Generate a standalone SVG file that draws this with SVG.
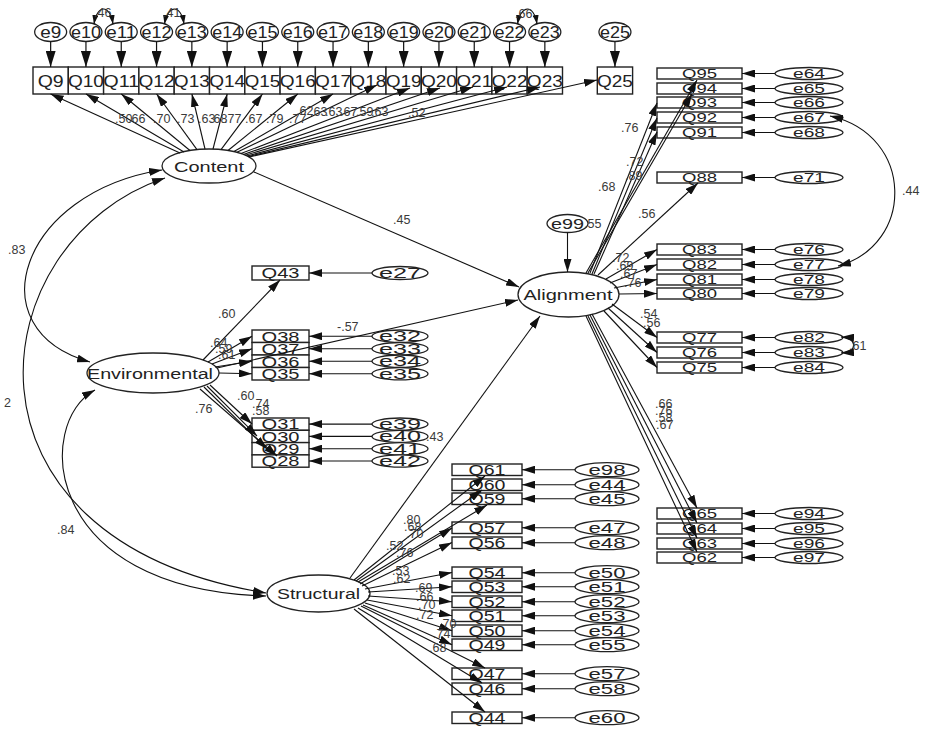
<svg xmlns="http://www.w3.org/2000/svg" width="925" height="730" viewBox="0 0 925 730">
<style>
.bx{fill:#fff;stroke:#222;stroke-width:1.4}
.el{fill:#fff;stroke:#222;stroke-width:1.3}
.ln{fill:none;stroke:#111;stroke-width:1.1;marker-end:url(#ah)}
.lb{fill:none;stroke:#111;stroke-width:1.2;marker-end:url(#ahb)}
.cv{fill:none;stroke:#111;stroke-width:1.1;marker-end:url(#ah);marker-start:url(#ah)}
.cs{fill:none;stroke:#111;stroke-width:1.1;marker-end:url(#sm);marker-start:url(#sm)}
text{font-family:"Liberation Sans",Arial,sans-serif;fill:#222}
.t{text-anchor:middle}
.tq{font-size:17px}
.tr{font-size:13px}
.te{font-size:14px}
.tl{font-size:15.5px}
.n{font-size:12.5px;fill:#3a3a3a}
</style>
<defs>
<marker id="ah" viewBox="0 0 13 8" refX="13" refY="4" markerWidth="13" markerHeight="8" markerUnits="userSpaceOnUse" orient="auto-start-reverse"><path d="M0,0 L13,4 L0,8 z" fill="#111"/></marker>
<marker id="ahb" viewBox="0 0 16 10" refX="16" refY="5" markerWidth="16" markerHeight="10" markerUnits="userSpaceOnUse" orient="auto"><path d="M0,0 L16,5 L0,10 z" fill="#111"/></marker>
<marker id="sm" viewBox="0 0 9 6" refX="9" refY="3" markerWidth="9" markerHeight="6" markerUnits="userSpaceOnUse" orient="auto-start-reverse"><path d="M0,0 L9,3 L0,6 z" fill="#111"/></marker>
</defs>
<rect width="925" height="730" fill="#fff"/>

<!-- latent nodes -->
<g id="Content"><ellipse class="el" cx="209" cy="166" rx="47" ry="17"/><text class="t tl" x="209" y="171.5" textLength="70" lengthAdjust="spacingAndGlyphs">Content</text></g>
<g id="Alignment"><ellipse class="el" cx="568.5" cy="294.5" rx="50.5" ry="22.5"/><text class="t tl" x="568" y="300" textLength="89" lengthAdjust="spacingAndGlyphs">Alignment</text></g>
<g id="Environmental"><ellipse class="el" cx="153" cy="373" rx="66" ry="20"/><text class="t tl" x="150" y="378.5" textLength="126" lengthAdjust="spacingAndGlyphs">Environmental</text></g>
<g id="Structural"><ellipse class="el" cx="318.5" cy="593.5" rx="51.5" ry="18.5"/><text class="t tl" x="318.5" y="599" textLength="83" lengthAdjust="spacingAndGlyphs">Structural</text></g>
<g id="e99"><ellipse class="el" cx="567.5" cy="223.5" rx="20.5" ry="9"/><text class="t te" x="567.5" y="228.5" textLength="33" lengthAdjust="spacingAndGlyphs">e99</text></g>

<!-- top row observed -->
<g id="Q9"><rect class="bx" x="33" y="67" width="35.3" height="27"/><text class="t tq" x="50.65" y="86.5" textLength="26" lengthAdjust="spacingAndGlyphs">Q9</text></g>
<g id="Q10"><rect class="bx" x="68.3" y="67" width="35.3" height="27"/><text class="t tq" x="85.95" y="86.5" textLength="36" lengthAdjust="spacingAndGlyphs">Q10</text></g>
<g id="Q11"><rect class="bx" x="103.6" y="67" width="35.3" height="27"/><text class="t tq" x="121.25" y="86.5" textLength="36" lengthAdjust="spacingAndGlyphs">Q11</text></g>
<g id="Q12"><rect class="bx" x="138.9" y="67" width="35.3" height="27"/><text class="t tq" x="156.55" y="86.5" textLength="36" lengthAdjust="spacingAndGlyphs">Q12</text></g>
<g id="Q13"><rect class="bx" x="174.2" y="67" width="35.3" height="27"/><text class="t tq" x="191.85" y="86.5" textLength="36" lengthAdjust="spacingAndGlyphs">Q13</text></g>
<g id="Q14"><rect class="bx" x="209.5" y="67" width="35.3" height="27"/><text class="t tq" x="227.15" y="86.5" textLength="36" lengthAdjust="spacingAndGlyphs">Q14</text></g>
<g id="Q15"><rect class="bx" x="244.8" y="67" width="35.3" height="27"/><text class="t tq" x="262.45" y="86.5" textLength="36" lengthAdjust="spacingAndGlyphs">Q15</text></g>
<g id="Q16"><rect class="bx" x="280.1" y="67" width="35.3" height="27"/><text class="t tq" x="297.75" y="86.5" textLength="36" lengthAdjust="spacingAndGlyphs">Q16</text></g>
<g id="Q17"><rect class="bx" x="315.4" y="67" width="35.3" height="27"/><text class="t tq" x="333.05" y="86.5" textLength="36" lengthAdjust="spacingAndGlyphs">Q17</text></g>
<g id="Q18"><rect class="bx" x="350.7" y="67" width="35.3" height="27"/><text class="t tq" x="368.35" y="86.5" textLength="36" lengthAdjust="spacingAndGlyphs">Q18</text></g>
<g id="Q19"><rect class="bx" x="386" y="67" width="35.3" height="27"/><text class="t tq" x="403.65" y="86.5" textLength="36" lengthAdjust="spacingAndGlyphs">Q19</text></g>
<g id="Q20"><rect class="bx" x="421.3" y="67" width="35.3" height="27"/><text class="t tq" x="438.95" y="86.5" textLength="36" lengthAdjust="spacingAndGlyphs">Q20</text></g>
<g id="Q21"><rect class="bx" x="456.6" y="67" width="35.3" height="27"/><text class="t tq" x="474.25" y="86.5" textLength="36" lengthAdjust="spacingAndGlyphs">Q21</text></g>
<g id="Q22"><rect class="bx" x="491.9" y="67" width="35.3" height="27"/><text class="t tq" x="509.55" y="86.5" textLength="36" lengthAdjust="spacingAndGlyphs">Q22</text></g>
<g id="Q23"><rect class="bx" x="527.2" y="67" width="35.3" height="27"/><text class="t tq" x="544.85" y="86.5" textLength="36" lengthAdjust="spacingAndGlyphs">Q23</text></g>
<g id="Q25"><rect class="bx" x="597.3" y="67" width="35.3" height="27"/><text class="t tq" x="614.95" y="86.5" textLength="36" lengthAdjust="spacingAndGlyphs">Q25</text></g>

<g id="e9"><ellipse class="el" cx="50.65" cy="32" rx="16" ry="9.5"/><text class="t" font-size="16" x="50.65" y="37.5" textLength="21" lengthAdjust="spacingAndGlyphs">e9</text></g>
<g id="e10"><ellipse class="el" cx="85.95" cy="32" rx="16" ry="9.5"/><text class="t" font-size="16" x="85.95" y="37.5" textLength="30" lengthAdjust="spacingAndGlyphs">e10</text></g>
<g id="e11"><ellipse class="el" cx="121.25" cy="32" rx="16" ry="9.5"/><text class="t" font-size="16" x="121.25" y="37.5" textLength="30" lengthAdjust="spacingAndGlyphs">e11</text></g>
<g id="e12"><ellipse class="el" cx="156.55" cy="32" rx="16" ry="9.5"/><text class="t" font-size="16" x="156.55" y="37.5" textLength="30" lengthAdjust="spacingAndGlyphs">e12</text></g>
<g id="e13"><ellipse class="el" cx="191.85" cy="32" rx="16" ry="9.5"/><text class="t" font-size="16" x="191.85" y="37.5" textLength="30" lengthAdjust="spacingAndGlyphs">e13</text></g>
<g id="e14"><ellipse class="el" cx="227.15" cy="32" rx="16" ry="9.5"/><text class="t" font-size="16" x="227.15" y="37.5" textLength="30" lengthAdjust="spacingAndGlyphs">e14</text></g>
<g id="e15"><ellipse class="el" cx="262.45" cy="32" rx="16" ry="9.5"/><text class="t" font-size="16" x="262.45" y="37.5" textLength="30" lengthAdjust="spacingAndGlyphs">e15</text></g>
<g id="e16"><ellipse class="el" cx="297.75" cy="32" rx="16" ry="9.5"/><text class="t" font-size="16" x="297.75" y="37.5" textLength="30" lengthAdjust="spacingAndGlyphs">e16</text></g>
<g id="e17"><ellipse class="el" cx="333.05" cy="32" rx="16" ry="9.5"/><text class="t" font-size="16" x="333.05" y="37.5" textLength="30" lengthAdjust="spacingAndGlyphs">e17</text></g>
<g id="e18"><ellipse class="el" cx="368.35" cy="32" rx="16" ry="9.5"/><text class="t" font-size="16" x="368.35" y="37.5" textLength="30" lengthAdjust="spacingAndGlyphs">e18</text></g>
<g id="e19"><ellipse class="el" cx="403.65" cy="32" rx="16" ry="9.5"/><text class="t" font-size="16" x="403.65" y="37.5" textLength="30" lengthAdjust="spacingAndGlyphs">e19</text></g>
<g id="e20"><ellipse class="el" cx="438.95" cy="32" rx="16" ry="9.5"/><text class="t" font-size="16" x="438.95" y="37.5" textLength="30" lengthAdjust="spacingAndGlyphs">e20</text></g>
<g id="e21"><ellipse class="el" cx="474.25" cy="32" rx="16" ry="9.5"/><text class="t" font-size="16" x="474.25" y="37.5" textLength="30" lengthAdjust="spacingAndGlyphs">e21</text></g>
<g id="e22"><ellipse class="el" cx="509.55" cy="32" rx="16" ry="9.5"/><text class="t" font-size="16" x="509.55" y="37.5" textLength="30" lengthAdjust="spacingAndGlyphs">e22</text></g>
<g id="e23"><ellipse class="el" cx="544.85" cy="32" rx="16" ry="9.5"/><text class="t" font-size="16" x="544.85" y="37.5" textLength="30" lengthAdjust="spacingAndGlyphs">e23</text></g>
<g id="e25"><ellipse class="el" cx="614.95" cy="32" rx="16" ry="9.5"/><text class="t" font-size="16" x="614.95" y="37.5" textLength="30" lengthAdjust="spacingAndGlyphs">e25</text></g>

<!-- right observed (Alignment) -->
<g id="Q95"><rect class="bx" x="657" y="68" width="85" height="11"/><text class="t tr" x="699.5" y="78" textLength="35" lengthAdjust="spacingAndGlyphs">Q95</text></g>
<g id="Q94"><rect class="bx" x="657" y="83" width="85" height="11"/><text class="t tr" x="699.5" y="93" textLength="35" lengthAdjust="spacingAndGlyphs">Q94</text></g>
<g id="Q93"><rect class="bx" x="657" y="97" width="85" height="11"/><text class="t tr" x="699.5" y="107" textLength="35" lengthAdjust="spacingAndGlyphs">Q93</text></g>
<g id="Q92"><rect class="bx" x="657" y="112" width="85" height="11"/><text class="t tr" x="699.5" y="122" textLength="35" lengthAdjust="spacingAndGlyphs">Q92</text></g>
<g id="Q91"><rect class="bx" x="657" y="127" width="85" height="11"/><text class="t tr" x="699.5" y="137" textLength="35" lengthAdjust="spacingAndGlyphs">Q91</text></g>
<g id="Q88"><rect class="bx" x="657" y="172" width="85" height="11"/><text class="t tr" x="699.5" y="182" textLength="35" lengthAdjust="spacingAndGlyphs">Q88</text></g>
<g id="Q83"><rect class="bx" x="657" y="244" width="85" height="11"/><text class="t tr" x="699.5" y="254" textLength="35" lengthAdjust="spacingAndGlyphs">Q83</text></g>
<g id="Q82"><rect class="bx" x="657" y="259" width="85" height="11"/><text class="t tr" x="699.5" y="269" textLength="35" lengthAdjust="spacingAndGlyphs">Q82</text></g>
<g id="Q81"><rect class="bx" x="657" y="274" width="85" height="11"/><text class="t tr" x="699.5" y="284" textLength="35" lengthAdjust="spacingAndGlyphs">Q81</text></g>
<g id="Q80"><rect class="bx" x="657" y="288" width="85" height="11"/><text class="t tr" x="699.5" y="298" textLength="35" lengthAdjust="spacingAndGlyphs">Q80</text></g>
<g id="Q77"><rect class="bx" x="657" y="332" width="85" height="11"/><text class="t tr" x="699.5" y="342" textLength="35" lengthAdjust="spacingAndGlyphs">Q77</text></g>
<g id="Q76"><rect class="bx" x="657" y="347" width="85" height="11"/><text class="t tr" x="699.5" y="357" textLength="35" lengthAdjust="spacingAndGlyphs">Q76</text></g>
<g id="Q75"><rect class="bx" x="657" y="362" width="85" height="11"/><text class="t tr" x="699.5" y="372" textLength="35" lengthAdjust="spacingAndGlyphs">Q75</text></g>
<g id="Q65"><rect class="bx" x="657" y="508" width="85" height="11"/><text class="t tr" x="699.5" y="518" textLength="35" lengthAdjust="spacingAndGlyphs">Q65</text></g>
<g id="Q64"><rect class="bx" x="657" y="523" width="85" height="11"/><text class="t tr" x="699.5" y="533" textLength="35" lengthAdjust="spacingAndGlyphs">Q64</text></g>
<g id="Q63"><rect class="bx" x="657" y="538" width="85" height="11"/><text class="t tr" x="699.5" y="548" textLength="35" lengthAdjust="spacingAndGlyphs">Q63</text></g>
<g id="Q62"><rect class="bx" x="657" y="552" width="85" height="11"/><text class="t tr" x="699.5" y="562" textLength="35" lengthAdjust="spacingAndGlyphs">Q62</text></g>

<g id="e64"><ellipse class="el" cx="809" cy="73.5" rx="34" ry="6"/><text class="t tr" x="809" y="78" textLength="32" lengthAdjust="spacingAndGlyphs">e64</text></g>
<g id="e65"><ellipse class="el" cx="809" cy="88.5" rx="34" ry="6"/><text class="t tr" x="809" y="93" textLength="32" lengthAdjust="spacingAndGlyphs">e65</text></g>
<g id="e66"><ellipse class="el" cx="809" cy="102.5" rx="34" ry="6"/><text class="t tr" x="809" y="107" textLength="32" lengthAdjust="spacingAndGlyphs">e66</text></g>
<g id="e67"><ellipse class="el" cx="809" cy="117.5" rx="34" ry="6"/><text class="t tr" x="809" y="122" textLength="32" lengthAdjust="spacingAndGlyphs">e67</text></g>
<g id="e68"><ellipse class="el" cx="809" cy="132.5" rx="34" ry="6"/><text class="t tr" x="809" y="137" textLength="32" lengthAdjust="spacingAndGlyphs">e68</text></g>
<g id="e71"><ellipse class="el" cx="809" cy="177.5" rx="34" ry="6"/><text class="t tr" x="809" y="182" textLength="32" lengthAdjust="spacingAndGlyphs">e71</text></g>
<g id="e76"><ellipse class="el" cx="809" cy="249.5" rx="34" ry="6"/><text class="t tr" x="809" y="254" textLength="32" lengthAdjust="spacingAndGlyphs">e76</text></g>
<g id="e77"><ellipse class="el" cx="809" cy="264.5" rx="34" ry="6"/><text class="t tr" x="809" y="269" textLength="32" lengthAdjust="spacingAndGlyphs">e77</text></g>
<g id="e78"><ellipse class="el" cx="809" cy="279.5" rx="34" ry="6"/><text class="t tr" x="809" y="284" textLength="32" lengthAdjust="spacingAndGlyphs">e78</text></g>
<g id="e79"><ellipse class="el" cx="809" cy="293.5" rx="34" ry="6"/><text class="t tr" x="809" y="298" textLength="32" lengthAdjust="spacingAndGlyphs">e79</text></g>
<g id="e82"><ellipse class="el" cx="809" cy="337.5" rx="34" ry="6"/><text class="t tr" x="809" y="342" textLength="32" lengthAdjust="spacingAndGlyphs">e82</text></g>
<g id="e83"><ellipse class="el" cx="809" cy="352.5" rx="34" ry="6"/><text class="t tr" x="809" y="357" textLength="32" lengthAdjust="spacingAndGlyphs">e83</text></g>
<g id="e84"><ellipse class="el" cx="809" cy="367.5" rx="34" ry="6"/><text class="t tr" x="809" y="372" textLength="32" lengthAdjust="spacingAndGlyphs">e84</text></g>
<g id="e94"><ellipse class="el" cx="809" cy="513.5" rx="34" ry="6"/><text class="t tr" x="809" y="518" textLength="32" lengthAdjust="spacingAndGlyphs">e94</text></g>
<g id="e95"><ellipse class="el" cx="809" cy="528.5" rx="34" ry="6"/><text class="t tr" x="809" y="533" textLength="32" lengthAdjust="spacingAndGlyphs">e95</text></g>
<g id="e96"><ellipse class="el" cx="809" cy="543.5" rx="34" ry="6"/><text class="t tr" x="809" y="548" textLength="32" lengthAdjust="spacingAndGlyphs">e96</text></g>
<g id="e97"><ellipse class="el" cx="809" cy="557.5" rx="34" ry="6"/><text class="t tr" x="809" y="562" textLength="32" lengthAdjust="spacingAndGlyphs">e97</text></g>

<!-- Environmental observed -->
<g id="Q43"><rect class="bx" x="252" y="266" width="57" height="14"/><text class="t te" x="280.5" y="278" textLength="38" lengthAdjust="spacingAndGlyphs">Q43</text></g>
<g id="Q38"><rect class="bx" x="252" y="330" width="57" height="12.5"/><text class="t te" x="280.5" y="341.5" textLength="38" lengthAdjust="spacingAndGlyphs">Q38</text></g>
<g id="Q37"><rect class="bx" x="252" y="342.5" width="57" height="12.5"/><text class="t te" x="280.5" y="354" textLength="38" lengthAdjust="spacingAndGlyphs">Q37</text></g>
<g id="Q36"><rect class="bx" x="252" y="355" width="57" height="12.5"/><text class="t te" x="280.5" y="366.5" textLength="38" lengthAdjust="spacingAndGlyphs">Q36</text></g>
<g id="Q35"><rect class="bx" x="252" y="367.5" width="57" height="12.5"/><text class="t te" x="280.5" y="379" textLength="38" lengthAdjust="spacingAndGlyphs">Q35</text></g>
<g id="Q31"><rect class="bx" x="252" y="418" width="57" height="12.3"/><text class="t te" x="280.5" y="429.3" textLength="38" lengthAdjust="spacingAndGlyphs">Q31</text></g>
<g id="Q30"><rect class="bx" x="252" y="430.3" width="57" height="12.3"/><text class="t te" x="280.5" y="441.6" textLength="38" lengthAdjust="spacingAndGlyphs">Q30</text></g>
<g id="Q29"><rect class="bx" x="252" y="442.6" width="57" height="12.3"/><text class="t te" x="280.5" y="453.9" textLength="38" lengthAdjust="spacingAndGlyphs">Q29</text></g>
<g id="Q28"><rect class="bx" x="252" y="454.9" width="57" height="12.3"/><text class="t te" x="280.5" y="466.2" textLength="38" lengthAdjust="spacingAndGlyphs">Q28</text></g>

<g id="e27"><ellipse class="el" cx="400" cy="273" rx="28" ry="6.5"/><text class="t te" x="400" y="278" textLength="42" lengthAdjust="spacingAndGlyphs">e27</text></g>
<g id="e32"><ellipse class="el" cx="400" cy="336.2" rx="28" ry="6.2"/><text class="t te" x="400" y="341.2" textLength="42" lengthAdjust="spacingAndGlyphs">e32</text></g>
<g id="e33"><ellipse class="el" cx="400" cy="348.7" rx="28" ry="6.2"/><text class="t te" x="400" y="353.7" textLength="42" lengthAdjust="spacingAndGlyphs">e33</text></g>
<g id="e34"><ellipse class="el" cx="400" cy="361.2" rx="28" ry="6.2"/><text class="t te" x="400" y="366.2" textLength="42" lengthAdjust="spacingAndGlyphs">e34</text></g>
<g id="e35"><ellipse class="el" cx="400" cy="373.7" rx="28" ry="6.2"/><text class="t te" x="400" y="378.7" textLength="42" lengthAdjust="spacingAndGlyphs">e35</text></g>
<g id="e39"><ellipse class="el" cx="400" cy="424.1" rx="28" ry="6.1"/><text class="t te" x="400" y="429.1" textLength="42" lengthAdjust="spacingAndGlyphs">e39</text></g>
<g id="e40"><ellipse class="el" cx="400" cy="436.4" rx="28" ry="6.1"/><text class="t te" x="400" y="441.4" textLength="42" lengthAdjust="spacingAndGlyphs">e40</text></g>
<g id="e41"><ellipse class="el" cx="400" cy="448.7" rx="28" ry="6.1"/><text class="t te" x="400" y="453.7" textLength="42" lengthAdjust="spacingAndGlyphs">e41</text></g>
<g id="e42"><ellipse class="el" cx="400" cy="461" rx="28" ry="6.1"/><text class="t te" x="400" y="466" textLength="42" lengthAdjust="spacingAndGlyphs">e42</text></g>

<!-- Structural observed -->
<g id="Q61"><rect class="bx" x="452" y="464" width="70" height="11.5"/><text class="t te" x="487" y="474.5" textLength="37" lengthAdjust="spacingAndGlyphs">Q61</text></g>
<g id="Q60"><rect class="bx" x="452" y="479" width="70" height="11.5"/><text class="t te" x="487" y="489.5" textLength="37" lengthAdjust="spacingAndGlyphs">Q60</text></g>
<g id="Q59"><rect class="bx" x="452" y="493" width="70" height="11.5"/><text class="t te" x="487" y="503.5" textLength="37" lengthAdjust="spacingAndGlyphs">Q59</text></g>
<g id="Q57"><rect class="bx" x="452" y="522" width="70" height="11.5"/><text class="t te" x="487" y="532.5" textLength="37" lengthAdjust="spacingAndGlyphs">Q57</text></g>
<g id="Q56"><rect class="bx" x="452" y="537" width="70" height="11.5"/><text class="t te" x="487" y="547.5" textLength="37" lengthAdjust="spacingAndGlyphs">Q56</text></g>
<g id="Q54"><rect class="bx" x="452" y="567" width="70" height="11.5"/><text class="t te" x="487" y="577.5" textLength="37" lengthAdjust="spacingAndGlyphs">Q54</text></g>
<g id="Q53"><rect class="bx" x="452" y="581" width="70" height="11.5"/><text class="t te" x="487" y="591.5" textLength="37" lengthAdjust="spacingAndGlyphs">Q53</text></g>
<g id="Q52"><rect class="bx" x="452" y="596" width="70" height="11.5"/><text class="t te" x="487" y="606.5" textLength="37" lengthAdjust="spacingAndGlyphs">Q52</text></g>
<g id="Q51"><rect class="bx" x="452" y="610" width="70" height="11.5"/><text class="t te" x="487" y="620.5" textLength="37" lengthAdjust="spacingAndGlyphs">Q51</text></g>
<g id="Q50"><rect class="bx" x="452" y="625" width="70" height="11.5"/><text class="t te" x="487" y="635.5" textLength="37" lengthAdjust="spacingAndGlyphs">Q50</text></g>
<g id="Q49"><rect class="bx" x="452" y="639" width="70" height="11.5"/><text class="t te" x="487" y="649.5" textLength="37" lengthAdjust="spacingAndGlyphs">Q49</text></g>
<g id="Q47"><rect class="bx" x="452" y="668" width="70" height="11.5"/><text class="t te" x="487" y="678.5" textLength="37" lengthAdjust="spacingAndGlyphs">Q47</text></g>
<g id="Q46"><rect class="bx" x="452" y="683" width="70" height="11.5"/><text class="t te" x="487" y="693.5" textLength="37" lengthAdjust="spacingAndGlyphs">Q46</text></g>
<g id="Q44"><rect class="bx" x="452" y="712" width="70" height="11.5"/><text class="t te" x="487" y="722.5" textLength="37" lengthAdjust="spacingAndGlyphs">Q44</text></g>

<g id="e98"><ellipse class="el" cx="607" cy="469.7" rx="32" ry="7"/><text class="t te" x="607" y="474.7" textLength="37" lengthAdjust="spacingAndGlyphs">e98</text></g>
<g id="e44"><ellipse class="el" cx="607" cy="484.7" rx="32" ry="7"/><text class="t te" x="607" y="489.7" textLength="37" lengthAdjust="spacingAndGlyphs">e44</text></g>
<g id="e45"><ellipse class="el" cx="607" cy="498.7" rx="32" ry="7"/><text class="t te" x="607" y="503.7" textLength="37" lengthAdjust="spacingAndGlyphs">e45</text></g>
<g id="e47"><ellipse class="el" cx="607" cy="527.7" rx="32" ry="7"/><text class="t te" x="607" y="532.7" textLength="37" lengthAdjust="spacingAndGlyphs">e47</text></g>
<g id="e48"><ellipse class="el" cx="607" cy="542.7" rx="32" ry="7"/><text class="t te" x="607" y="547.7" textLength="37" lengthAdjust="spacingAndGlyphs">e48</text></g>
<g id="e50"><ellipse class="el" cx="607" cy="572.7" rx="32" ry="7"/><text class="t te" x="607" y="577.7" textLength="37" lengthAdjust="spacingAndGlyphs">e50</text></g>
<g id="e51"><ellipse class="el" cx="607" cy="586.7" rx="32" ry="7"/><text class="t te" x="607" y="591.7" textLength="37" lengthAdjust="spacingAndGlyphs">e51</text></g>
<g id="e52"><ellipse class="el" cx="607" cy="601.7" rx="32" ry="7"/><text class="t te" x="607" y="606.7" textLength="37" lengthAdjust="spacingAndGlyphs">e52</text></g>
<g id="e53"><ellipse class="el" cx="607" cy="615.7" rx="32" ry="7"/><text class="t te" x="607" y="620.7" textLength="37" lengthAdjust="spacingAndGlyphs">e53</text></g>
<g id="e54"><ellipse class="el" cx="607" cy="630.7" rx="32" ry="7"/><text class="t te" x="607" y="635.7" textLength="37" lengthAdjust="spacingAndGlyphs">e54</text></g>
<g id="e55"><ellipse class="el" cx="607" cy="644.7" rx="32" ry="7"/><text class="t te" x="607" y="649.7" textLength="37" lengthAdjust="spacingAndGlyphs">e55</text></g>
<g id="e57"><ellipse class="el" cx="607" cy="673.7" rx="32" ry="7"/><text class="t te" x="607" y="678.7" textLength="37" lengthAdjust="spacingAndGlyphs">e57</text></g>
<g id="e58"><ellipse class="el" cx="607" cy="688.7" rx="32" ry="7"/><text class="t te" x="607" y="693.7" textLength="37" lengthAdjust="spacingAndGlyphs">e58</text></g>
<g id="e60"><ellipse class="el" cx="607" cy="717.7" rx="32" ry="7"/><text class="t te" x="607" y="722.7" textLength="37" lengthAdjust="spacingAndGlyphs">e60</text></g>

<!-- connectors -->
<g id="connectors">
<line class="lb" x1="50.65" y1="41.5" x2="50.65" y2="67"/>
<line class="lb" x1="85.95" y1="41.5" x2="85.95" y2="67"/>
<line class="lb" x1="121.25" y1="41.5" x2="121.25" y2="67"/>
<line class="lb" x1="156.55" y1="41.5" x2="156.55" y2="67"/>
<line class="lb" x1="191.85" y1="41.5" x2="191.85" y2="67"/>
<line class="lb" x1="227.15" y1="41.5" x2="227.15" y2="67"/>
<line class="lb" x1="262.45" y1="41.5" x2="262.45" y2="67"/>
<line class="lb" x1="297.75" y1="41.5" x2="297.75" y2="67"/>
<line class="lb" x1="333.05" y1="41.5" x2="333.05" y2="67"/>
<line class="lb" x1="368.35" y1="41.5" x2="368.35" y2="67"/>
<line class="lb" x1="403.65" y1="41.5" x2="403.65" y2="67"/>
<line class="lb" x1="438.95" y1="41.5" x2="438.95" y2="67"/>
<line class="lb" x1="474.25" y1="41.5" x2="474.25" y2="67"/>
<line class="lb" x1="509.55" y1="41.5" x2="509.55" y2="67"/>
<line class="lb" x1="544.85" y1="41.5" x2="544.85" y2="67"/>
<line class="lb" x1="614.95" y1="41.5" x2="614.95" y2="67"/>
<path class="cs" d="M94,24 C97,4 110,4 113,24"/>
<path class="cs" d="M164.5,24 C168,4 181,4 184,24"/>
<path class="cs" d="M517.5,24 C521,4 534,4 537,24"/>
<line class="ln" x1="180" y1="153" x2="50.6" y2="94"/>
<line class="ln" x1="184" y1="152" x2="86" y2="94"/>
<line class="ln" x1="190" y1="150.5" x2="121.3" y2="94"/>
<line class="ln" x1="197" y1="149.6" x2="156.6" y2="94"/>
<line class="ln" x1="205" y1="149" x2="191.9" y2="94"/>
<line class="ln" x1="213" y1="149" x2="227.2" y2="94"/>
<line class="ln" x1="221" y1="149.6" x2="262.5" y2="94"/>
<line class="ln" x1="228" y1="150.5" x2="297.8" y2="94"/>
<line class="ln" x1="234" y1="151.6" x2="333" y2="94"/>
<line class="ln" x1="237" y1="152.3" x2="377" y2="85"/>
<line class="ln" x1="241" y1="153.6" x2="410" y2="88"/>
<line class="ln" x1="243.4" y1="154.4" x2="440" y2="88"/>
<line class="ln" x1="245.2" y1="155.2" x2="473" y2="87"/>
<line class="ln" x1="247" y1="156" x2="507" y2="87"/>
<line class="ln" x1="248" y1="156.6" x2="540" y2="87"/>
<line class="ln" x1="249" y1="157" x2="597" y2="80"/>
<line class="ln" x1="254" y1="172" x2="519" y2="287"/>
<line class="ln" x1="217" y1="368" x2="518" y2="300"/>
<line class="ln" x1="350" y1="578" x2="540" y2="316"/>
<line class="ln" x1="567.5" y1="232.5" x2="567.5" y2="272"/>
<path class="cv" d="M162,170 C20,192 -25,330 90,362"/>
<path class="cv" d="M165,178 C-20,240 -60,540 266,593"/>
<path class="cv" d="M95,390 C35,422 40,590 266,596"/>
<line class="ln" x1="586" y1="273" x2="697" y2="80"/>
<line class="ln" x1="588" y1="273" x2="692" y2="94"/>
<line class="ln" x1="590" y1="273" x2="657" y2="103"/>
<line class="ln" x1="592" y1="274" x2="657" y2="118"/>
<line class="ln" x1="594" y1="274" x2="657" y2="132"/>
<line class="ln" x1="598" y1="275" x2="698" y2="183"/>
<line class="ln" x1="606" y1="279" x2="657" y2="249.5"/>
<line class="ln" x1="610" y1="283" x2="657" y2="264.5"/>
<line class="ln" x1="614" y1="288" x2="657" y2="279.5"/>
<line class="ln" x1="619" y1="294" x2="657" y2="293.5"/>
<line class="ln" x1="612" y1="304" x2="657" y2="337.5"/>
<line class="ln" x1="608" y1="308" x2="657" y2="352.5"/>
<line class="ln" x1="604" y1="311" x2="657" y2="367.5"/>
<line class="ln" x1="592" y1="314" x2="697" y2="508"/>
<line class="ln" x1="590" y1="315" x2="697" y2="523"/>
<line class="ln" x1="588" y1="316" x2="697" y2="538"/>
<line class="ln" x1="586" y1="316" x2="697" y2="552"/>
<line class="ln" x1="775" y1="73.5" x2="742" y2="73.5"/>
<line class="ln" x1="775" y1="88.5" x2="742" y2="88.5"/>
<line class="ln" x1="775" y1="102.5" x2="742" y2="102.5"/>
<line class="ln" x1="775" y1="117.5" x2="742" y2="117.5"/>
<line class="ln" x1="775" y1="132.5" x2="742" y2="132.5"/>
<line class="ln" x1="775" y1="177.5" x2="742" y2="177.5"/>
<line class="ln" x1="775" y1="249.5" x2="742" y2="249.5"/>
<line class="ln" x1="775" y1="264.5" x2="742" y2="264.5"/>
<line class="ln" x1="775" y1="279.5" x2="742" y2="279.5"/>
<line class="ln" x1="775" y1="293.5" x2="742" y2="293.5"/>
<line class="ln" x1="775" y1="337.5" x2="742" y2="337.5"/>
<line class="ln" x1="775" y1="352.5" x2="742" y2="352.5"/>
<line class="ln" x1="775" y1="367.5" x2="742" y2="367.5"/>
<line class="ln" x1="775" y1="513.5" x2="742" y2="513.5"/>
<line class="ln" x1="775" y1="528.5" x2="742" y2="528.5"/>
<line class="ln" x1="775" y1="543.5" x2="742" y2="543.5"/>
<line class="ln" x1="775" y1="557.5" x2="742" y2="557.5"/>
<path class="cv" d="M830,116 C915,135 915,245 838,266"/>
<path class="cv" d="M841,337 C858,338 858,352 841,353"/>
<line class="ln" x1="203" y1="360" x2="280" y2="280"/>
<line class="ln" x1="208" y1="362" x2="252" y2="336.2"/>
<line class="ln" x1="212" y1="364" x2="252" y2="348.7"/>
<line class="ln" x1="215" y1="367" x2="252" y2="361.2"/>
<line class="ln" x1="219" y1="373" x2="252" y2="373.7"/>
<line class="ln" x1="210" y1="385" x2="252" y2="424"/>
<line class="ln" x1="207" y1="386" x2="257" y2="436"/>
<line class="ln" x1="204" y1="387" x2="267" y2="449"/>
<line class="ln" x1="200" y1="389" x2="277" y2="456"/>
<line class="ln" x1="372" y1="273" x2="309" y2="273"/>
<line class="ln" x1="372" y1="336.2" x2="309" y2="336.2"/>
<line class="ln" x1="372" y1="348.7" x2="309" y2="348.7"/>
<line class="ln" x1="372" y1="361.2" x2="309" y2="361.2"/>
<line class="ln" x1="372" y1="373.7" x2="309" y2="373.7"/>
<line class="ln" x1="372" y1="424.1" x2="309" y2="424.1"/>
<line class="ln" x1="372" y1="436.4" x2="309" y2="436.4"/>
<line class="ln" x1="372" y1="448.7" x2="309" y2="448.7"/>
<line class="ln" x1="372" y1="461" x2="309" y2="461"/>
<line class="ln" x1="354" y1="580" x2="485" y2="476"/>
<line class="ln" x1="356" y1="581" x2="482" y2="490"/>
<line class="ln" x1="358" y1="582" x2="487" y2="505"/>
<line class="ln" x1="360" y1="584" x2="452" y2="528"/>
<line class="ln" x1="362" y1="586" x2="452" y2="542.5"/>
<line class="ln" x1="365" y1="589" x2="452" y2="572.5"/>
<line class="ln" x1="368" y1="592" x2="452" y2="586.7"/>
<line class="ln" x1="368" y1="596" x2="452" y2="601.7"/>
<line class="ln" x1="367" y1="600" x2="452" y2="615.7"/>
<line class="ln" x1="365" y1="603" x2="452" y2="630.7"/>
<line class="ln" x1="363" y1="605" x2="452" y2="644.7"/>
<line class="ln" x1="361" y1="606" x2="485" y2="668"/>
<line class="ln" x1="358" y1="608" x2="482" y2="683"/>
<line class="ln" x1="354" y1="609" x2="485" y2="712"/>
<line class="ln" x1="575" y1="469.7" x2="522" y2="469.7"/>
<line class="ln" x1="575" y1="484.7" x2="522" y2="484.7"/>
<line class="ln" x1="575" y1="498.7" x2="522" y2="498.7"/>
<line class="ln" x1="575" y1="527.7" x2="522" y2="527.7"/>
<line class="ln" x1="575" y1="542.7" x2="522" y2="542.7"/>
<line class="ln" x1="575" y1="572.7" x2="522" y2="572.7"/>
<line class="ln" x1="575" y1="586.7" x2="522" y2="586.7"/>
<line class="ln" x1="575" y1="601.7" x2="522" y2="601.7"/>
<line class="ln" x1="575" y1="615.7" x2="522" y2="615.7"/>
<line class="ln" x1="575" y1="630.7" x2="522" y2="630.7"/>
<line class="ln" x1="575" y1="644.7" x2="522" y2="644.7"/>
<line class="ln" x1="575" y1="673.7" x2="522" y2="673.7"/>
<line class="ln" x1="575" y1="688.7" x2="522" y2="688.7"/>
<line class="ln" x1="575" y1="717.7" x2="522" y2="717.7"/>
</g>

<!-- labels -->
<g id="labels">
<text class="n" x="94" y="17">.46</text>
<text class="n" x="163" y="17">.41</text>
<text class="n" x="515" y="18">.66</text>
<text class="n" x="115" y="123">.50</text>
<text class="n" x="128" y="123">.66</text>
<text class="n" x="153" y="123">.70</text>
<text class="n" x="177" y="123">.73</text>
<text class="n" x="198" y="123">.63</text>
<text class="n" x="210" y="123">.68</text>
<text class="n" x="224" y="123">.77</text>
<text class="n" x="245" y="123">.67</text>
<text class="n" x="266" y="123">.79</text>
<text class="n" x="289" y="123">.77</text>
<text class="n" x="296" y="115">.62</text>
<text class="n" x="310" y="116">.63</text>
<text class="n" x="325" y="116">.63</text>
<text class="n" x="340" y="116">.67</text>
<text class="n" x="356" y="116">.59</text>
<text class="n" x="371" y="116">.63</text>
<text class="n" x="408" y="117">.52</text>
<text class="n" x="8" y="254">.83</text>
<text class="n" x="4" y="407">2</text>
<text class="n" x="57" y="534">.84</text>
<text class="n" x="393" y="224">.45</text>
<text class="n" x="337" y="331">-.57</text>
<text class="n" x="426" y="441">.43</text>
<text class="n" x="584" y="228">.55</text>
<text class="n" x="621" y="132">.76</text>
<text class="n" x="626" y="166">.72</text>
<text class="n" x="625" y="180">.89</text>
<text class="n" x="598" y="191">.68</text>
<text class="n" x="638" y="218">.56</text>
<text class="n" x="612" y="262">.72</text>
<text class="n" x="616" y="270">.69</text>
<text class="n" x="620" y="278">.67</text>
<text class="n" x="624" y="287">.76</text>
<text class="n" x="640" y="318">.54</text>
<text class="n" x="643" y="327">.56</text>
<text class="n" x="655" y="408">.66</text>
<text class="n" x="655" y="415">.76</text>
<text class="n" x="655" y="422">.58</text>
<text class="n" x="656" y="429">.67</text>
<text class="n" x="902" y="195">.44</text>
<text class="n" x="849" y="350">.61</text>
<text class="n" x="218" y="318">.60</text>
<text class="n" x="210" y="347">.64</text>
<text class="n" x="215" y="353">.59</text>
<text class="n" x="218" y="359">.61</text>
<text class="n" x="237" y="400">.60</text>
<text class="n" x="252" y="408">.74</text>
<text class="n" x="252" y="415">.58</text>
<text class="n" x="195" y="413">.76</text>
<text class="n" x="403" y="524">.80</text>
<text class="n" x="404" y="531">.68</text>
<text class="n" x="406" y="538">.70</text>
<text class="n" x="386" y="550">.52</text>
<text class="n" x="396" y="557">.76</text>
<text class="n" x="392" y="575">.53</text>
<text class="n" x="393" y="583">.62</text>
<text class="n" x="415" y="592">.69</text>
<text class="n" x="416" y="601">.66</text>
<text class="n" x="418" y="609">.70</text>
<text class="n" x="416" y="619">.72</text>
<text class="n" x="439" y="628">.70</text>
<text class="n" x="433" y="638">.74</text>
<text class="n" x="429" y="652">.68</text>
</g>
</svg>
